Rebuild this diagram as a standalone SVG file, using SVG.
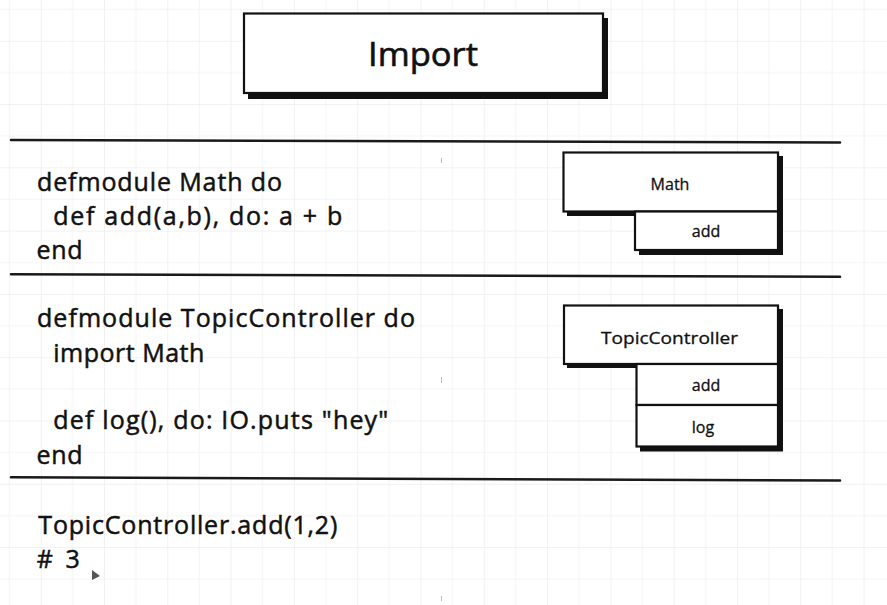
<svg xmlns="http://www.w3.org/2000/svg" width="887" height="605" viewBox="0 0 887 605">
  <defs>
    <pattern id="grid" patternUnits="userSpaceOnUse" x="40.7" y="40.7" width="63.3" height="63.3">
      <rect x="0" y="0" width="63.3" height="63.3" fill="#ffffff"/>
      <rect x="31.4" y="0" width="1" height="63.3" fill="#f5f5f5"/>
      <rect x="0" y="31.4" width="63.3" height="1" fill="#f5f5f5"/>
      <rect x="-0.7" y="0" width="1.6" height="63.3" fill="#f0f0f0"/>
      <rect x="0" y="-0.7" width="63.3" height="1.6" fill="#f0f0f0"/>
    </pattern>
    <style>
      .code { font-family: "Open Sans", "Noto Sans", "Liberation Sans", sans-serif; font-size: 25px; fill: #111; stroke: #111; stroke-width: 0.5; }
      .title { font-family: "Open Sans", "Noto Sans", "Liberation Sans", sans-serif; font-size: 32px; fill: #111; stroke: #111; stroke-width: 0.6; text-anchor: middle; }
      .lbl { font-family: "Open Sans", "Noto Sans", "Liberation Sans", sans-serif; font-size: 16px; fill: #111; stroke: #111; stroke-width: 0.3; text-anchor: middle; }
      .box { fill: #ffffff; stroke: #111; stroke-width: 2.2; }
      .shadow { fill: #111; }
      .rule { stroke: #1a1a1a; stroke-width: 2.6; stroke-linecap: round; }
      .tick { stroke: #bbbbbb; stroke-width: 1; }
    </style>
  </defs>

  <!-- paper background -->
  <rect x="0" y="0" width="887" height="605" fill="url(#grid)"/>

  <!-- title -->
  <g id="title">
    <rect class="shadow" x="248" y="18" width="360" height="81"/>
    <rect class="box" x="244" y="13.5" width="359" height="79.5" stroke-width="2.6"/>
    <text class="title" x="423" y="66" textLength="110" lengthAdjust="spacingAndGlyphs">Import</text>
  </g>

  <!-- section dividers -->
  <g id="dividers">
    <line class="rule" x1="11" y1="140" x2="840" y2="142.5"/>
    <line class="rule" x1="11" y1="274.3" x2="840" y2="276.7"/>
    <line class="rule" x1="11" y1="477.3" x2="840" y2="480.5"/>
  </g>

  <!-- code: Math module -->
  <g id="code-math">
    <text class="code" x="37" y="191" textLength="245">defmodule Math do</text>
    <text class="code" x="53.3" y="224.5" textLength="289">def add(a,b), do: a + b</text>
    <text class="code" x="36.5" y="258.5" textLength="46">end</text>
  </g>

  <!-- code: TopicController module -->
  <g id="code-topic">
    <text class="code" x="37" y="327" textLength="378">defmodule TopicController do</text>
    <text class="code" x="53.3" y="362" textLength="151">import Math</text>
    <text class="code" x="53.3" y="428.5" textLength="335">def log(), do: IO.puts "hey"</text>
    <text class="code" x="36.5" y="464" textLength="46">end</text>
  </g>

  <!-- code: call -->
  <g id="code-call">
    <text class="code" x="38.3" y="533.5" textLength="299">TopicController.add(1,2)</text>
    <text class="code" x="36.7" y="567.5" textLength="43"># 3</text>
  </g>

  <!-- Math module block -->
  <g id="node-math">
    <path class="shadow" d="M567,156 H783 V255 H639 V216 H567 Z"/>
    <rect class="box" x="563.5" y="152.5" width="214.5" height="59"/>
    <rect class="box" x="635" y="211.5" width="143" height="38.5"/>
    <text class="lbl" x="670" y="190">Math</text>
    <text class="lbl" x="706" y="236.5">add</text>
  </g>

  <!-- TopicController block -->
  <g id="node-topic">
    <path class="shadow" d="M567,309 H783 V451.5 H640 V368 H567 Z"/>
    <rect class="box" x="564" y="305.5" width="214" height="58.5"/>
    <rect class="box" x="636.5" y="364" width="141.5" height="41"/>
    <rect class="box" x="636.5" y="405" width="141.5" height="41.5"/>
    <text class="lbl" x="669.5" y="343.5" textLength="137" lengthAdjust="spacingAndGlyphs">TopicController</text>
    <text class="lbl" x="706" y="390.5">add</text>
    <text class="lbl" x="703" y="433">log</text>
  </g>

  <!-- stray marks and pointer -->
  <g id="marks">
    <line class="tick" x1="441.5" y1="158" x2="441.5" y2="163"/>
    <line class="tick" x1="441.5" y1="377" x2="441.5" y2="383"/>
    <line class="tick" x1="441.5" y1="596" x2="441.5" y2="601"/>
    <path d="M92,570 L92,580 L100,576 Z" fill="#555"/>
  </g>
</svg>
